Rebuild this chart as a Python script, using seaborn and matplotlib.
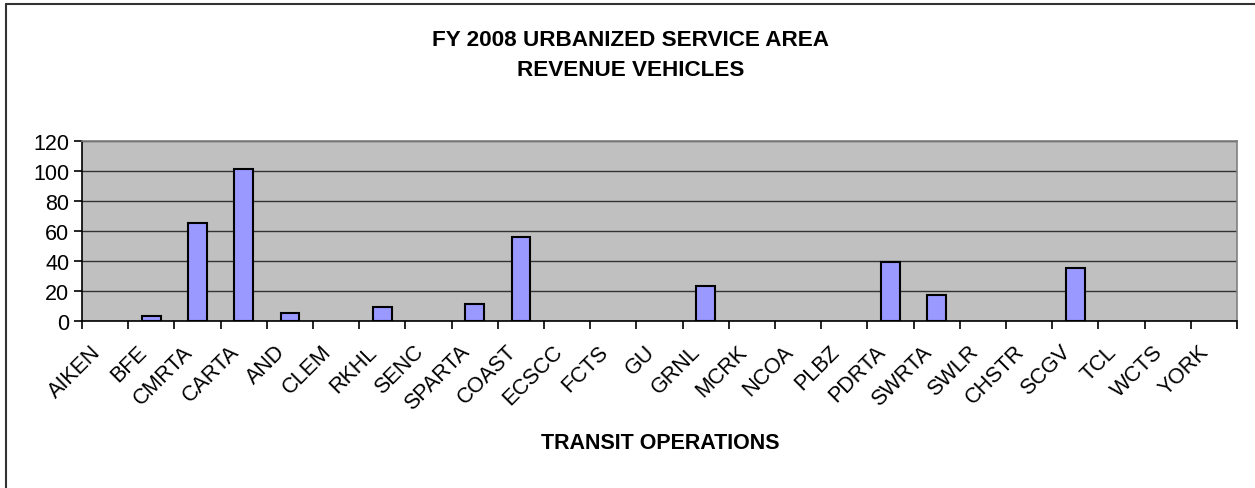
import matplotlib
matplotlib.use("Agg")
import matplotlib.pyplot as plt
import seaborn as sns
import numpy as np
from matplotlib.lines import Line2D
from matplotlib.ticker import FixedLocator
from matplotlib.transforms import ScaledTranslation

operations = ['AIKEN', 'BFE', 'CMRTA', 'CARTA', 'AND', 'CLEM', 'RKHL', 'SENC',
              'SPARTA', 'COAST', 'ECSCC', 'FCTS', 'GU', 'GRNL', 'MCRK', 'NCOA',
              'PLBZ', 'PDRTA', 'SWRTA', 'SWLR', 'CHSTR', 'SCGV', 'TCL', 'WCTS', 'YORK']
vehicles = [0, 3, 65, 101, 5, 0, 9, 0, 11, 56, 0, 0, 0, 23, 0, 0,
            0, 39, 17, 0, 0, 35, 0, 0, 0]
y_ticks = [0, 20, 40, 60, 80, 100, 120]

sns.set_style("white")
plt.rcParams['font.family'] = ['Liberation Sans', 'DejaVu Sans']
plt.rcParams['text.color'] = 'black'
plt.rcParams['xtick.color'] = 'black'
plt.rcParams['ytick.color'] = 'black'

fig = plt.figure(figsize=(12.55, 4.89), dpi=100)
ax = fig.add_axes([82 / 1255, 1 - 321.5 / 489, (1237 - 82) / 1255, (321.5 - 141.7) / 489])
ax.set_facecolor('#C0C0C0')

sns.barplot(x=operations, y=vehicles, color='#9999FF', edgecolor='black',
            linewidth=1.5, width=0.4, saturation=1, ax=ax, zorder=3)
# empty categories show no bar outline
for bar in ax.patches:
    if bar.get_height() == 0:
        bar.set_linewidth(0)

ax.set_xlim(-0.5, len(operations) - 0.5)
ax.set_ylim(0, 120)
ax.set_yticks(y_ticks)
ax.yaxis.grid(True, color='#333333', linewidth=1, zorder=0)
ax.set_axisbelow(True)

# excel-style ticks between categories
ax.xaxis.set_minor_locator(FixedLocator(np.arange(-0.5, len(operations), 1)))
ax.tick_params(axis='x', which='major', bottom=True, length=0, pad=20)
ax.tick_params(axis='x', which='minor', bottom=True, length=6, width=1.2,
               color='black', direction='out')
ax.tick_params(axis='y', left=True, length=6, width=1.2, color='black',
               direction='out', labelsize=15.5, pad=3)
shift = ScaledTranslation(-8 / 100, 0, fig.dpi_scale_trans)
for lab in ax.get_xticklabels():
    lab.set_rotation(45)
    lab.set_ha('right')
    lab.set_va('center')
    lab.set_rotation_mode('anchor')
    lab.set_fontsize(15.5)
    lab.set_transform(lab.get_transform() + shift)

for side in ['left', 'bottom']:
    ax.spines[side].set_color('black')
    ax.spines[side].set_linewidth(1.2)
for side in ['top', 'right']:
    ax.spines[side].set_color('#808080')
    ax.spines[side].set_linewidth(1.2)

ax.set_xlabel('')
ax.set_ylabel('')

fig.text(631 / 1255, 1 - 40 / 489, 'FY 2008 URBANIZED SERVICE AREA', ha='center', va='center',
         fontsize=16.2, fontweight='bold')
fig.text(631 / 1255, 1 - 71 / 489, 'REVENUE VEHICLES', ha='center', va='center',
         fontsize=16.2, fontweight='bold')
fig.text(660 / 1255, 1 - 444 / 489, 'TRANSIT OPERATIONS', ha='center', va='center',
         fontsize=15.5, fontweight='bold')

# outer chart frame (only top and left visible)
fig.add_artist(Line2D([6 / 1255, 6 / 1255], [0, 1 - 5 / 489], transform=fig.transFigure,
                      color='#333333', linewidth=1.5))
fig.add_artist(Line2D([6 / 1255, 1], [1 - 5 / 489, 1 - 5 / 489], transform=fig.transFigure,
                      color='#333333', linewidth=1.5))

fig.savefig('out.png', dpi=100)
